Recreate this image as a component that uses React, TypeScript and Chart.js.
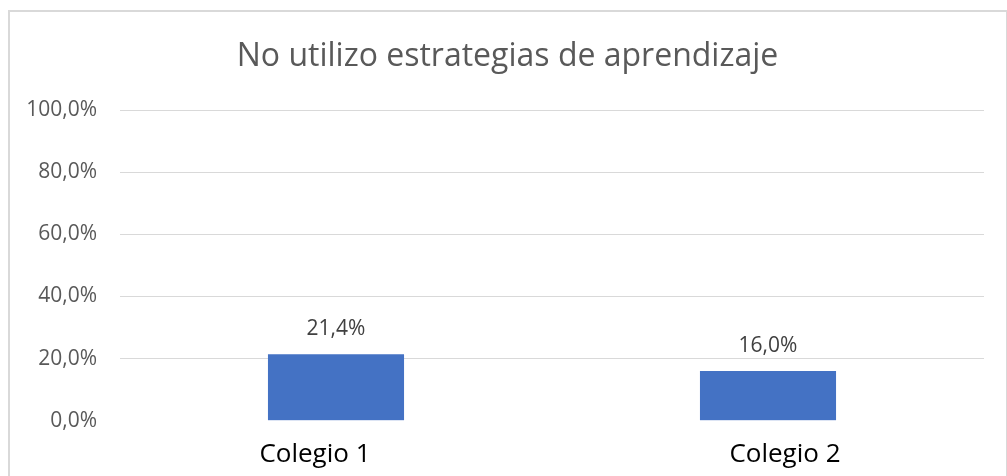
import React, { useEffect, useRef } from "react";
import { Chart, registerables } from "chart.js";

Chart.register(...registerables);

const titleText = "No utilizo estrategias de aprendizaje";
const categories = ["Colegio 1", "Colegio 2"];
const values = [21.4, 16.0];
const yTicks = [0, 20, 40, 60, 80, 100];
// horizontal nudge of each category label (style only)
const labelShift = [-21, 17];

const fmt = (v: number) => v.toFixed(1).replace(".", ",") + "%";

const FONT = "'Open Sans', 'Noto Sans', sans-serif";

const dataLabelPlugin = {
  id: "dataLabels",
  afterDatasetsDraw(chart: any) {
    const ctx = chart.ctx;
    const meta = chart.getDatasetMeta(0);
    ctx.save();
    ctx.font = `21px ${FONT}`;
    ctx.fillStyle = "#404040";
    ctx.textAlign = "center";
    ctx.textBaseline = "alphabetic";
    meta.data.forEach((bar: any, i: number) => {
      ctx.fillText(fmt(values[i]), bar.x, bar.y - 19);
    });
    ctx.restore();
  },
};

const labelShiftPlugin = {
  id: "labelShift",
  afterUpdate(chart: any) {
    const s = chart.scales.x;
    if (!s) return;
    const proto = Object.getPrototypeOf(s);
    s.getLabelItems = function (area: any) {
      const items = proto.getLabelItems.call(this, area);
      return items.map((it: any, i: number) => ({
        ...it,
        options: {
          ...it.options,
          translation: [it.options.translation[0] + (labelShift[i] || 0), it.options.translation[1]],
        },
      }));
    };
  },
};

export default function App() {
  const ref = useRef<HTMLCanvasElement | null>(null);
  useEffect(() => {
    if (!ref.current) return;
    const chart = new Chart(ref.current, {
      type: "bar",
      data: {
        labels: categories,
        datasets: [
          {
            data: values,
            backgroundColor: "#4472c4",
            borderWidth: 0,
            barPercentage: 0.63,
            categoryPercentage: 0.5,
          },
        ],
      },
      options: {
        animation: false,
        responsive: false,
        maintainAspectRatio: false,
        layout: { padding: { top: 0, left: 8, right: 0, bottom: 32 } },
        plugins: {
          legend: { display: false },
          tooltip: { enabled: false },
          title: {
            display: true,
            text: titleText,
            color: "#595959",
            font: { family: FONT, size: 32, weight: "normal", lineHeight: 1.2 },
            padding: { top: 38, bottom: 33.6 },
          },
        },
        scales: {
          x: {
            grid: { display: false, drawTicks: false },
            border: { display: false },
            ticks: {
              color: "#000000",
              padding: 18,
              font: { family: FONT, size: 26 },
            },
          },
          y: {
            min: 0,
            max: 100,
            afterBuildTicks(scale: any) {
              scale.ticks = yTicks.map((v) => ({ value: v }));
            },
            afterFit(scale: any) {
              scale.width = 112;
            },
            grid: {
              drawTicks: false,
              color: (c: any) => (c.tick && c.tick.value === 0 ? "rgba(0,0,0,0)" : "#d9d9d9"),
              lineWidth: 1,
            },
            border: { display: false },
            ticks: {
              color: "#595959",
              padding: 23,
              font: { family: FONT, size: 21 },
              callback: (v: any) => fmt(Number(v)),
            },
          },
          yRight: {
            position: "right",
            display: true,
            grid: { display: false, drawTicks: false },
            border: { display: false },
            ticks: { display: false },
            afterFit(scale: any) {
              scale.width = 23;
            },
          },
        },
      },
      plugins: [dataLabelPlugin, labelShiftPlugin],
    });
    return () => chart.destroy();
  }, []);

  return (
    <div
      style={{
        position: "fixed",
        left: 0,
        top: 0,
        width: 1007,
        height: 476,
        overflow: "hidden",
        background: "#ffffff",
      }}
    >
      <div
        style={{
          position: "absolute",
          left: 8,
          top: 10,
          width: 1000,
          height: 500,
          border: "2px solid #d9d9d9",
          boxSizing: "border-box",
        }}
      />
      <canvas
        ref={ref}
        width={1007}
        height={520}
        style={{ position: "absolute", left: 0, top: 0, width: 1007, height: 520 }}
      />
    </div>
  );
}
